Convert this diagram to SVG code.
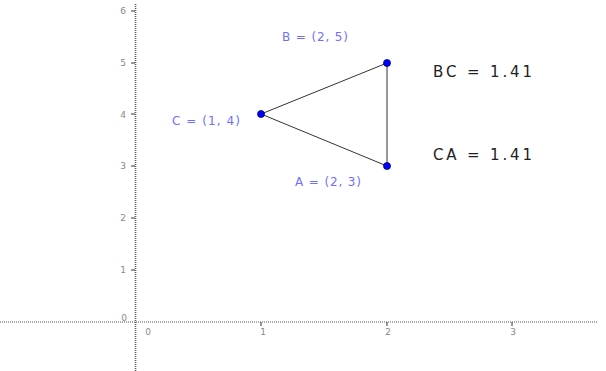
<svg xmlns="http://www.w3.org/2000/svg" width="606" height="371" viewBox="0 0 606 371">
<style>
.axis{stroke:#555;stroke-width:1;stroke-dasharray:1,1;fill:none}
.tick{stroke:#333;stroke-width:1}
.tl{font-family:"DejaVu Sans","Liberation Sans",sans-serif;font-size:9px;fill:#888}
.edge{stroke:#333;stroke-width:1;fill:none}
.pt{fill:#0000ff;stroke:#000066;stroke-width:0.8}
.pl{font-family:"DejaVu Sans","Liberation Sans",sans-serif;font-size:12px;fill:#6f6fff}
.m{font-family:"DejaVu Sans","Liberation Sans",sans-serif;font-size:15px;fill:#222}
</style>
<rect width="606" height="371" fill="#fff"/>
<g id="axes">
<line class="axis" x1="0" y1="322" x2="598" y2="322"/>
<line class="axis" x1="135.5" y1="4" x2="135.5" y2="371" style="stroke-width:1.6"/>
<g>
<line class="tick" x1="261" y1="322" x2="261" y2="326"/>
<line class="tick" x1="387" y1="322" x2="387" y2="326"/>
<line class="tick" x1="512" y1="322" x2="512" y2="326"/>
<line class="tick" x1="131" y1="270" x2="135" y2="270"/>
<line class="tick" x1="131" y1="218" x2="135" y2="218"/>
<line class="tick" x1="131" y1="166" x2="135" y2="166"/>
<line class="tick" x1="131" y1="114" x2="135" y2="114"/>
<line class="tick" x1="131" y1="63" x2="135" y2="63"/>
<line class="tick" x1="131" y1="11" x2="135" y2="11"/>
</g>
<text class="tl" x="148" y="335" text-anchor="middle">0</text>
<text class="tl" x="263" y="335" text-anchor="middle">1</text>
<text class="tl" x="388" y="335" text-anchor="middle">2</text>
<text class="tl" x="513" y="335" text-anchor="middle">3</text>
<text class="tl" x="124" y="321" text-anchor="middle">0</text>
<text class="tl" x="123" y="273" text-anchor="middle">1</text>
<text class="tl" x="123" y="221" text-anchor="middle">2</text>
<text class="tl" x="123" y="169" text-anchor="middle">3</text>
<text class="tl" x="123" y="118" text-anchor="middle">4</text>
<text class="tl" x="123" y="66" text-anchor="middle">5</text>
<text class="tl" x="123" y="14" text-anchor="middle">6</text>
</g>
<g id="connectors">
<line class="edge" x1="261" y1="114" x2="387" y2="63"/>
<line class="edge" x1="387" y1="63" x2="387" y2="166"/>
<line class="edge" x1="387" y1="166" x2="261" y2="114"/>
</g>
<g id="B">
<circle class="pt" cx="387" cy="63" r="3.5"/>
<text class="pl" x="282" y="41" textLength="66" lengthAdjust="spacing">B = (2, 5)</text>
</g>
<g id="C">
<circle class="pt" cx="261" cy="114" r="3.5"/>
<text class="pl" x="172" y="125" textLength="68" lengthAdjust="spacing">C = (1, 4)</text>
</g>
<g id="A">
<circle class="pt" cx="387" cy="166" r="3.5"/>
<text class="pl" x="295" y="186" textLength="66" lengthAdjust="spacing">A = (2, 3)</text>
</g>
<g id="BC">
<text class="m" x="433" y="77" textLength="99" lengthAdjust="spacing">BC  =  1.41</text>
</g>
<g id="CA">
<text class="m" x="433" y="160" textLength="99" lengthAdjust="spacing">CA  =  1.41</text>
</g>
</svg>
